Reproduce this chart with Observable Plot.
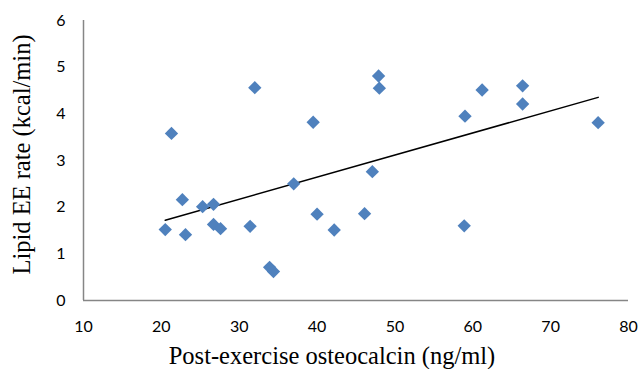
<!DOCTYPE html>
<html><head><meta charset="utf-8">
<script src="https://cdn.jsdelivr.net/npm/d3@7"></script>
<script src="https://cdn.jsdelivr.net/npm/@observablehq/plot@0.6"></script>
<style>body{margin:0;background:#fff}</style>
</head><body><div id="chart"></div>
<script>
const osteocalcin = [20.5,21.3,22.7,23.1,25.3,26.7,26.7,27.6,31.4,32.0,33.9,34.4,37.0,39.5,40.0,42.2,46.1,47.1,47.9,48.0,59.0,58.9,61.2,66.4,66.4,76.1];
const lipidEE    = [1.52,3.58,2.16,1.41,2.01,2.06,1.63,1.54,1.59,4.56,0.71,0.62,2.5,3.82,1.85,1.51,1.86,2.76,4.81,4.55,3.95,1.60,4.51,4.60,4.21,3.81];
const xTicks = [10,20,30,40,50,60,70,80];
const yTicks = [0,1,2,3,4,5,6];
const xTitle = "Post-exercise osteocalcin (ng/ml)";
const yTitle = "Lipid EE rate (kcal/min)";
const data = osteocalcin.map((x,i)=>({x, y: lipidEE[i]}));

const chart = Plot.plot({
  width: 641, height: 369,
  marginLeft: 83, marginRight: 13, marginTop: 20, marginBottom: 69,
  style: {fontFamily: "Lato, sans-serif", fontSize: "16px", color: "#000", background: "#fff"},
  x: {domain: [10, 80]},
  y: {domain: [0, 6]},
  marks: [
    Plot.axisX({ticks: xTicks, tickSize: 0, tickPadding: 20, label: null, fontSize: 16, tickFormat: d3.format("d")}),
    Plot.axisY({ticks: yTicks, tickSize: 0, tickPadding: 18, label: null, fontSize: 16, tickFormat: d3.format("d")}),
    Plot.ruleY([0], {stroke: "#868686", strokeWidth: 1.5}),
    Plot.ruleX([10], {stroke: "#868686", strokeWidth: 1.5}),
    Plot.linearRegressionY(data, {x: "x", y: "y", stroke: "#000", strokeWidth: 1.5, ci: 0}),
    Plot.dot(data, {x: "x", y: "y", symbol: "diamond2", r: 6, fill: "#4F81BD", stroke: "none"}),
    Plot.text([xTitle], {frameAnchor: "bottom", dy: 63, dx: -24, fontFamily: "Liberation Serif, serif", fontSize: 24.5}),
    Plot.text([yTitle], {frameAnchor: "left", textAnchor: "middle", dx: -61, dy: -6, rotate: -90, fontFamily: "Liberation Serif, serif", fontSize: 24.5})
  ]
});
document.getElementById("chart").append(chart);
</script>
</body></html>
